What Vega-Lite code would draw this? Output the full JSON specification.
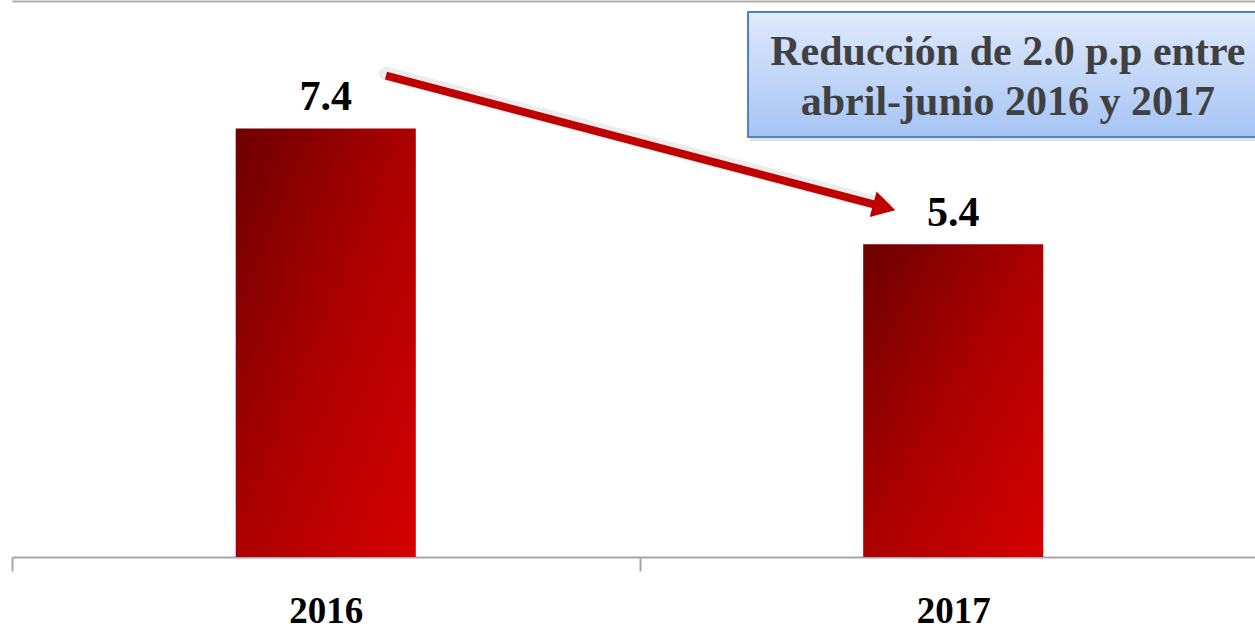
{
  "$schema": "https://vega.github.io/schema/vega-lite/v6.json",
  "width": 1255,
  "height": 556,
  "autosize": {"type": "none"},
  "padding": {"left": 12, "top": 1, "right": 0, "bottom": 67},
  "background": "white",
  "config": {"view": {"stroke": null}},
  "datasets": {
    "bars": [
      {"year": "2016", "value": 7.4},
      {"year": "2017", "value": 5.4}
    ],
    "note": [
      {"x": 0.673, "x2": 1.5, "y": 9.41, "y2": 7.25, "tx": 1.087, "ty": 8.72, "text": "Reducción de 2.0 p.p entre\nabril-junio 2016 y 2017"}
    ],
    "arrow": [
      {"x": 0.096, "y": 8.31, "x2": 0.89, "y2": 6.04}
    ]
  },
  "layer": [
    {
      "data": {"name": "bars"},
      "mark": {
        "type": "bar",
        "width": {"band": 0.287},
        "fill": {
          "gradient": "linear",
          "x1": 0, "y1": 0, "x2": 1, "y2": 1,
          "stops": [
            {"offset": 0, "color": "#6c0000"},
            {"offset": 0.5, "color": "#ac0000"},
            {"offset": 1, "color": "#d60000"}
          ]
        }
      },
      "encoding": {
        "x": {
          "field": "year", "type": "nominal",
          "scale": {"paddingInner": 0, "paddingOuter": 0},
          "axis": {
            "title": null,
            "labelAngle": 0,
            "tickBand": "extent",
            "domainColor": "#a6a6a6",
            "domainWidth": 2,
            "tickColor": "#a6a6a6",
            "tickWidth": 2,
            "tickSize": 14,
            "labelPadding": 51,
            "labelBaseline": "alphabetic",
            "labelFont": "Liberation Serif",
            "labelFontWeight": "bold",
            "labelFontSize": 37,
            "labelColor": "#000000"
          }
        },
        "y": {
          "field": "value", "type": "quantitative",
          "scale": {"domain": [0, 9.6], "nice": false},
          "axis": {
            "title": null,
            "values": [9.6],
            "grid": true,
            "gridColor": "#b0b0b0",
            "gridWidth": 2,
            "domain": false,
            "ticks": false,
            "labels": false
          }
        }
      }
    },
    {
      "data": {"name": "bars"},
      "mark": {
        "type": "text",
        "dy": -31,
        "baseline": "middle",
        "align": "center",
        "font": "Liberation Serif",
        "fontWeight": "bold",
        "fontSize": 42,
        "color": "#000000"
      },
      "encoding": {
        "x": {"field": "year", "type": "nominal", "scale": {"paddingInner": 0, "paddingOuter": 0}, "axis": null},
        "y": {"field": "value", "type": "quantitative", "scale": {"domain": [0, 9.6], "nice": false}, "axis": null},
        "text": {"field": "value", "type": "quantitative", "format": ".1f"}
      }
    },
    {
      "data": {"name": "arrow"},
      "mark": {"type": "rule", "color": "#808080", "strokeWidth": 14, "opacity": 0.15, "yOffset": -2, "y2Offset": -2, "strokeCap": "round"},
      "encoding": {
        "x": {"field": "x", "type": "quantitative", "scale": {"domain": [-0.5, 1.5], "nice": false, "zero": false}, "axis": null},
        "x2": {"field": "x2"},
        "y": {"field": "y", "type": "quantitative", "scale": {"domain": [0, 9.6], "nice": false}, "axis": null},
        "y2": {"field": "y2"}
      }
    },
    {
      "data": {"name": "arrow"},
      "mark": {"type": "rule", "color": "#c00000", "strokeWidth": 8, "strokeCap": "butt"},
      "encoding": {
        "x": {"field": "x", "type": "quantitative", "scale": {"domain": [-0.5, 1.5], "nice": false, "zero": false}, "axis": null},
        "x2": {"field": "x2"},
        "y": {"field": "y", "type": "quantitative", "scale": {"domain": [0, 9.6], "nice": false}, "axis": null},
        "y2": {"field": "y2"}
      }
    },
    {
      "data": {"name": "arrow"},
      "mark": {"type": "point", "shape": "triangle-right", "filled": true, "color": "#c00000", "opacity": 1, "size": 700, "angle": 15},
      "encoding": {
        "x": {"field": "x2", "type": "quantitative", "scale": {"domain": [-0.5, 1.5], "nice": false, "zero": false}, "axis": null},
        "y": {"field": "y2", "type": "quantitative", "scale": {"domain": [0, 9.6], "nice": false}, "axis": null}
      }
    },
    {
      "data": {"name": "note"},
      "mark": {"type": "rect", "fill": "#7f7f7f", "opacity": 0.25, "xOffset": 2, "x2Offset": 2, "yOffset": 4, "y2Offset": 4},
      "encoding": {
        "x": {"field": "x", "type": "quantitative", "scale": {"domain": [-0.5, 1.5], "nice": false, "zero": false}, "axis": null},
        "x2": {"field": "x2"},
        "y": {"field": "y", "type": "quantitative", "scale": {"domain": [0, 9.6], "nice": false}, "axis": null},
        "y2": {"field": "y2"}
      }
    },
    {
      "data": {"name": "note"},
      "mark": {
        "type": "rect",
        "stroke": "#4f81bd",
        "strokeWidth": 2,
        "fill": {
          "gradient": "linear",
          "x1": 0, "y1": 0, "x2": 0, "y2": 1,
          "stops": [
            {"offset": 0, "color": "#e0eafc"},
            {"offset": 1, "color": "#a6c4f4"}
          ]
        }
      },
      "encoding": {
        "x": {"field": "x", "type": "quantitative", "scale": {"domain": [-0.5, 1.5], "nice": false, "zero": false}, "axis": null},
        "x2": {"field": "x2"},
        "y": {"field": "y", "type": "quantitative", "scale": {"domain": [0, 9.6], "nice": false}, "axis": null},
        "y2": {"field": "y2"}
      }
    },
    {
      "data": {"name": "note"},
      "mark": {
        "type": "text",
        "lineBreak": "\n",
        "lineHeight": 50,
        "align": "center",
        "baseline": "middle",
        "font": "Liberation Serif",
        "fontWeight": "bold",
        "fontSize": 42,
        "color": "#404040"
      },
      "encoding": {
        "x": {"field": "tx", "type": "quantitative", "scale": {"domain": [-0.5, 1.5], "nice": false, "zero": false}, "axis": null},
        "y": {"field": "ty", "type": "quantitative", "scale": {"domain": [0, 9.6], "nice": false}, "axis": null},
        "text": {"field": "text"}
      }
    }
  ],
  "resolve": {"scale": {"x": "independent", "y": "independent"}, "axis": {"x": "independent", "y": "independent"}}
}
